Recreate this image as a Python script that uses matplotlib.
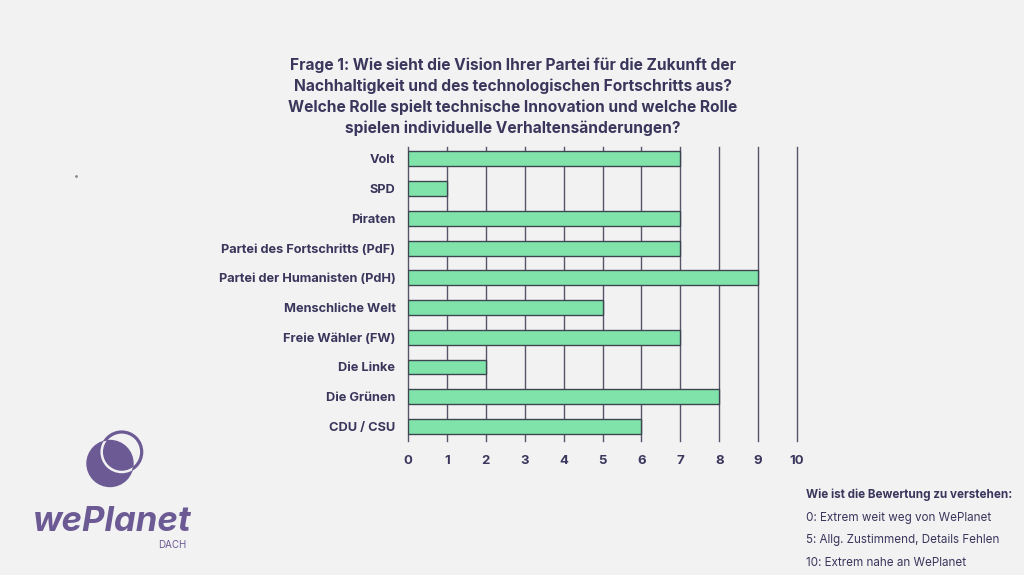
import matplotlib
matplotlib.use("Agg")
import matplotlib.pyplot as plt
from matplotlib.patches import Circle

parties = ["Volt", "SPD", "Piraten", "Partei des Fortschritts (PdF)",
           "Partei der Humanisten (PdH)", "Menschliche Welt", "Freie Wähler (FW)",
           "Die Linke", "Die Grünen", "CDU / CSU"]
scores = [7, 1, 7, 7, 9, 5, 7, 2, 8, 6]
xticks = list(range(0, 11))

title = ("Frage 1: Wie sieht die Vision Ihrer Partei für die Zukunft der\n"
         "Nachhaltigkeit und des technologischen Fortschritts aus?\n"
         "Welche Rolle spielt technische Innovation und welche Rolle\n"
         "spielen individuelle Verhaltensänderungen?")
legend_title = "Wie ist die Bewertung zu verstehen:"
legend_lines = ["0: Extrem weit weg von WePlanet",
                "5: Allg. Zustimmend, Details Fehlen",
                "10: Extrem nahe an WePlanet"]

BG = "#f2f2f2"
TXT = "#3a365c"
GREEN = "#80e4aa"
EDGE = "#3d4650"
PURPLE = "#6c5a94"
FONT = ["Inter", "DejaVu Sans"]

W, H = 1024, 575
fig = plt.figure(figsize=(W / 100, H / 100), dpi=100, facecolor=BG)

# axes: x 0->408px, 10->797px ; top 147px, bottom 441px
ax = fig.add_axes([408 / W, 1 - 441 / H, (797 - 408) / W, (441 - 147) / H])
ax.set_facecolor(BG)
n = len(parties)
ypos = [n - 1 - i for i in range(n)]
ax.barh(ypos, scores, height=0.5, color=GREEN, edgecolor=EDGE, linewidth=1.0, zorder=3)
ax.set_xlim(0, 10)
ax.set_ylim(-0.49, n - 1 + 0.4)
ax.set_xticks(xticks)
ax.set_xticklabels([str(v) for v in xticks], fontsize=9.5, fontweight="bold",
                   color=TXT, family=FONT)
ax.set_yticks(ypos)
ax.set_yticklabels(parties, fontsize=9.2, fontweight="bold", color=TXT, family=FONT)
ax.tick_params(axis="x", length=0, pad=10)
ax.tick_params(axis="y", length=0, pad=9)
for s in ax.spines.values():
    s.set_visible(False)
ax.grid(axis="x", color="#55556a", linewidth=1.0, zorder=0)
for gl in ax.get_xgridlines():
    gl.set_clip_on(False)
ax.yaxis.grid(False)

fig.text(513 / W, 1 - 97 / H, title, ha="center", va="center", fontsize=11.2,
         fontweight="bold", color=TXT, family=FONT, linespacing=1.45)

fig.text(806 / W, 1 - 495 / H, legend_title, ha="left", va="center", fontsize=8.4,
         fontweight="bold", color=TXT, family=FONT)
for i, line in enumerate(legend_lines):
    fig.text(806 / W, 1 - (518 + 22.5 * i) / H, line, ha="left", va="center",
             fontsize=8.4, color=TXT, family=FONT)

# logo
lax = fig.add_axes([0, 0, 1, 1], facecolor="none")
lax.set_xlim(0, W)
lax.set_ylim(H, 0)
lax.axis("off")
disk = Circle((110, 463.5), 23, color=PURPLE, zorder=1)
lax.add_patch(disk)
lax.add_patch(Circle((121.7, 452), 20, fill=False, edgecolor=PURPLE, linewidth=2.3, zorder=3))
knock = Circle((121.7, 452), 20, fill=False, edgecolor=BG, linewidth=1.8, zorder=4)
lax.add_patch(knock)
knock.set_clip_path(disk)
lax.text(112, 522, "wePlanet", ha="center", va="center", fontsize=25,
         fontweight="bold", fontstyle="italic", color=PURPLE, family=FONT)
lax.text(172, 545, "DACH", ha="center", va="center", fontsize=7, color=PURPLE,
         family=FONT)
lax.plot([76], [176], marker="o", markersize=1, color="#888888")

fig.savefig("out.png", dpi=100, facecolor=BG)
